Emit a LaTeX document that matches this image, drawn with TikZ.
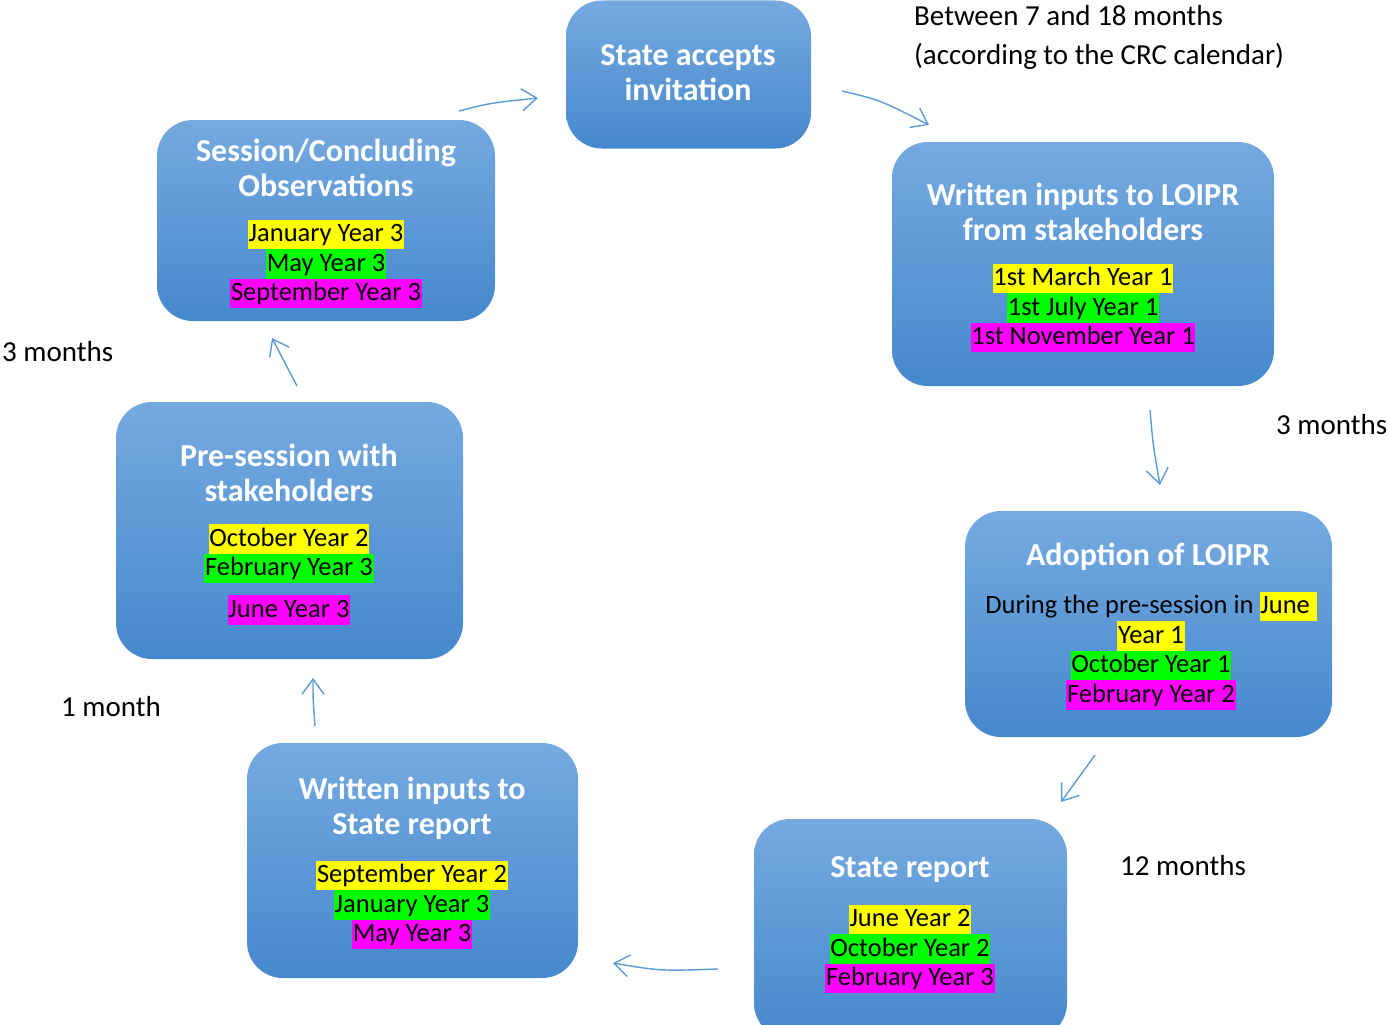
\documentclass[tikz,border=0pt]{standalone}
\usepackage{fontspec}
\setmainfont{Carlito}
\usetikzlibrary{arrows.meta}
\definecolor{boxtop}{RGB}{117,170,224}
\definecolor{boxbot}{RGB}{70,136,205}
\definecolor{arr}{RGB}{91,155,213}
\definecolor{hy}{RGB}{255,255,0}
\definecolor{hg}{RGB}{0,255,0}
\definecolor{hm}{RGB}{255,0,255}
\lineskiplimit=-5pt
\newcommand{\hlx}[2]{{\setlength{\fboxsep}{0pt}\colorbox{#1}{\rule[-7.5pt]{0pt}{29.5pt}\kern0.8pt#2\kern0.8pt}}}
\tikzset{
  box/.style={rounded corners=36pt, top color=boxtop, bottom color=boxbot, draw=none, inner sep=0},
  title/.style={text=white, font=\fontsize{32}{35}\selectfont\bfseries, align=center, inner sep=0},
  dates/.style={font=\fontsize{26.5}{29.5}\selectfont, align=center, inner sep=0},
  lbl/.style={font=\fontsize{29}{39}\selectfont, align=left, inner sep=0},
  conn/.style={draw=arr, line width=1.4pt, -{Straight Barb[length=15pt,width=22pt]}}
}
\begin{document}
\begin{tikzpicture}[x=1pt,y=-1pt]
\useasboundingbox (0,0) rectangle (1389,1025);
\clip (0,0) rectangle (1389,1025);

% boxes
\node[box, minimum width=245, minimum height=148] (b1) at (688.5,74.5) {};
\node[box, minimum width=382, minimum height=244] (b2) at (1083,264) {};
\node[box, minimum width=367, minimum height=226] (b3) at (1148.5,624) {};
\node[box, minimum width=313, minimum height=220] (b4) at (910.5,929) {};
\node[box, minimum width=331, minimum height=235] (b5) at (412.5,860.5) {};
\node[box, minimum width=347, minimum height=257] (b6) at (289.5,530.5) {};
\node[box, minimum width=338, minimum height=201] (b7) at (326,220.5) {};

% titles
\node[title] (t1) at (688,72.5) {State accepts\\invitation};
\node[title] (t2) at (1083,211.5) {Written inputs to LOIPR\\from stakeholders};
\node[title] (t3) at (1148,557) {Adoption of LOIPR};
\node[title] (t4) at (910,870) {State report};
\node[title] (t5) at (412,808.5) {Written inputs to\\State report};
\node[title] (t6) at (289,472.5) {Pre-session with\\stakeholders};
\node[title] (t7) at (326,167.5) {Session/Concluding\\Observations};

% dates
\node[dates] (d2) at (1083,308) {\hlx{hy}{1st March Year 1}\\\hlx{hg}{1st July Year 1}\\\hlx{hm}{1st November Year 1}};
\node[dates] (d3) at (1151,650.5) {During the pre-session in \hlx{hy}{June\ }\\\hlx{hy}{Year 1}\\\hlx{hg}{October Year 1}\\\hlx{hm}{February Year 2}};
\node[dates] (d4) at (910,949) {\hlx{hy}{June Year 2}\\\hlx{hg}{October Year 2}\\\hlx{hm}{February Year 3}};
\node[dates] (d5) at (412,905) {\hlx{hy}{September Year 2}\\\hlx{hg}{January Year 3}\\\hlx{hm}{May Year 3}};
\node[dates] (d6) at (289,553.5) {\hlx{hy}{October Year 2}\\\hlx{hg}{February Year 3}};
\node[dates] (d6b) at (289,610) {\hlx{hm}{June Year 3}};
\node[dates] (d7) at (326,264) {\hlx{hy}{January Year 3}\\\hlx{hg}{May Year 3}\\\hlx{hm}{September Year 3}};

% labels
\node[lbl, anchor=west] (l1) at (914,37.5) {Between 7 and 18 months\\(according to the CRC calendar)};
\node[lbl, anchor=west] (l2) at (1276,425) {3 months};
\node[lbl, anchor=west] (l3) at (1120,866) {12 months};
\node[lbl, anchor=west] (l4) at (61,707) {1 month};
\node[lbl, anchor=west] (l5) at (2,352) {3 months};

% arrows
\coordinate (a1s) at (459,111); \coordinate (a1e) at (538,98);
\coordinate (a2s) at (842,91);  \coordinate (a2e) at (929,125);
\coordinate (a3s) at (1150,410); \coordinate (a3e) at (1160,485);
\coordinate (a4s) at (1095,755); \coordinate (a4e) at (1061,802);
\coordinate (a5s) at (718,969); \coordinate (a5e) at (613,963);
\coordinate (a6s) at (315,726); \coordinate (a6e) at (313,678);
\coordinate (a7s) at (297,386); \coordinate (a7e) at (272,338);
\draw[conn] (a1s) .. controls (490,103) .. (a1e);
\draw[conn] (a2s) .. controls (880,100) .. (a2e);
\draw[conn] (a3s) .. controls (1153,445) .. (a3e);
\draw[conn] (a4s) -- (a4e);
\draw[conn] (a5s) .. controls (660,971) .. (a5e);
\draw[conn] (a6s) .. controls (313,700) .. (a6e);
\draw[conn] (a7s) -- (a7e);
\end{tikzpicture}
\end{document}
